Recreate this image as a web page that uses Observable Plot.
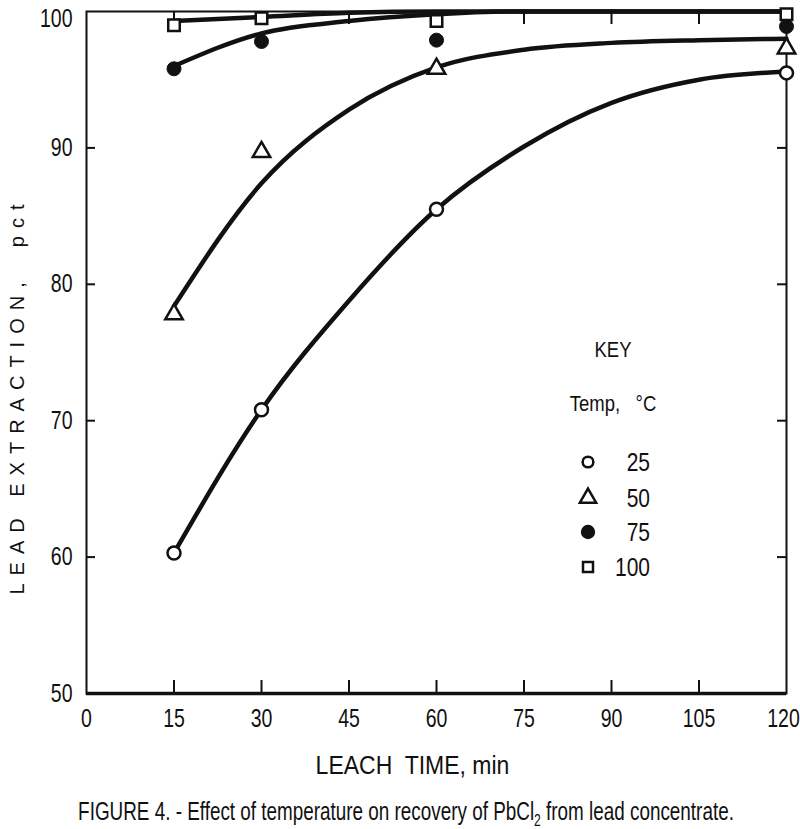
<!DOCTYPE html>
<html>
<head>
<meta charset="utf-8">
<script src="https://cdn.jsdelivr.net/npm/d3@7"></script>
<script src="https://cdn.jsdelivr.net/npm/@observablehq/plot@0.6"></script>
<style>
  body { margin: 0; background: #fff; }
  #wrap { position: relative; width: 800px; height: 829px; font-family: "Liberation Sans", Arial, sans-serif; color: #111; overflow: hidden; }
  #caption { position: absolute; left: -200px; top: 796px; width: 1212px; text-align: center; font-size: 25px; line-height: 30px; white-space: nowrap; transform: scaleX(0.755); transform-origin: 606px 0; }
  #caption sub { font-size: 16px; }
  .lg { position: absolute; white-space: nowrap; }
</style>
</head>
<body>
<div id="wrap"></div>
<script>
// ---- data ----
const times = [15, 30, 60, 120];                 // leach time, min (measured points)
const pct25  = [60.3, 70.8, 85.5, 95.5];
const pct50  = [77.8, 89.7, 95.8, 97.3];
const pct75  = [95.8, 97.8, 97.9, 98.9];
const pct100 = [99.0, 99.5, 99.3, 99.8];

const fitTimes = [15, 30, 45, 60, 75, 90, 105, 120]; // hand-drawn curves
const fit25  = [60.3, 70.8, 78.8, 85.5, 90.1, 93.3, 95.0, 95.6];
const fit50  = [78.4, 87.4, 92.8, 95.9, 97.2, 97.7, 97.9, 98.0];
const fit75  = [96.0, 98.4, 99.3, 99.8, 100, 100, 100, 100];
const fit100 = [99.3, 99.6, 99.9, 100, 100, 100, 100, 100];

const temps = ["25", "50", "75", "100"];
const xTicks = [0, 15, 30, 45, 60, 75, 90, 105, 120];
const xInnerTicks = [15, 30, 45, 60, 75, 90, 105];
const yTicks = [50, 60, 70, 80, 90, 100];
const yInnerTicks = [60, 70, 80, 90];

const xTitle = "LEACH  TIME, min";
const yTitle = "LEAD EXTRACTION,  pct";
const keyTitle = "KEY";
const keySub = "Temp,&nbsp;&nbsp;&nbsp;°C";

// ---- build tables ----
const fits = [fit25, fit50, fit75, fit100];
const fitRows = [];
fits.forEach((arr, k) => arr.forEach((v, i) => fitRows.push({temp: temps[k], t: fitTimes[i], v})));
const rows = arr => times.map((t, i) => ({t, v: arr[i]}));

const FONT = '"Liberation Sans", Arial, sans-serif';
const INK = "#111";
const lastX = xTicks[xTicks.length - 1];
const lastY = yTicks[yTicks.length - 1];

const plot = Plot.plot({
  width: 800,
  height: 790,
  marginLeft: 86,
  marginRight: 14,
  marginTop: 11,
  marginBottom: 97,
  x: {domain: [0, 120], label: null},
  y: {domain: [50, 100], label: null},
  style: {fontFamily: FONT, color: INK, background: "#fff", overflow: "visible"},
  marks: [
    Plot.frame({stroke: INK, strokeWidth: 2}),
    Plot.ruleY([yTicks[0]], {stroke: INK, strokeWidth: 3.5}),
    Plot.axisX({ticks: xTicks.filter(d => d !== lastX), tickSize: 0, tickPadding: 16, fontSize: 25, label: null}),
    Plot.axisX({ticks: [lastX], tickSize: 0, tickPadding: 16, fontSize: 25, dx: -3, label: null}),
    Plot.axisX({ticks: xInnerTicks, tickSize: -13, tickFormat: () => "", label: null, strokeWidth: 2}),
    Plot.axisX({anchor: "top", ticks: xInnerTicks, tickSize: -12, tickFormat: () => "", label: null, strokeWidth: 2}),
    Plot.axisY({ticks: yTicks.filter(d => d !== lastY), tickSize: 0, tickPadding: 14, fontSize: 25, label: null}),
    Plot.axisY({ticks: [lastY], tickSize: 0, tickPadding: 14, fontSize: 25, dy: 7, label: null}),
    Plot.axisY({ticks: yInnerTicks, tickSize: -9, tickFormat: () => "", label: null, strokeWidth: 2}),
    Plot.axisY({anchor: "right", ticks: yInnerTicks, tickSize: -10, tickFormat: () => "", label: null, strokeWidth: 2}),
    Plot.line(fitRows, {x: "t", y: "v", z: "temp", stroke: INK, strokeWidth: 4.5, curve: "monotone-x"}),
    Plot.dot(rows(pct25), {x: "t", y: "v", symbol: "circle", r: 6.5, fill: "#fff", stroke: INK, strokeWidth: 2.5}),
    Plot.dot(rows(pct50), {x: "t", y: "v", symbol: "triangle", r: 6.5, fill: "#fff", stroke: INK, strokeWidth: 2.5}),
    Plot.dot(rows(pct75), {x: "t", y: "v", symbol: "circle", r: 7, fill: INK, stroke: INK, strokeWidth: 1}),
    Plot.dot(rows(pct100), {x: "t", y: "v", symbol: "square", r: 6.5, fill: "#fff", stroke: INK, strokeWidth: 2.5}),
    Plot.text([yTitle], {text: d => d, frameAnchor: "left", textAnchor: "middle", rotate: -90, dx: -69, dy: 43, fontSize: 20, fill: INK}),
    Plot.text([xTitle], {text: d => d, frameAnchor: "bottom", textAnchor: "middle", dy: 80, dx: -24, fontSize: 25, fill: INK})
  ]
});
// condensed look for numerals and the x title; letter-spaced y title
plot.querySelectorAll("text").forEach(t => {
  t.style.whiteSpace = "pre";
  if (t.textContent === yTitle) { t.setAttribute("letter-spacing", "8px"); return; }
  const tr = t.getAttribute("transform");
  const k = t.textContent === xTitle ? 0.92 : 0.78;
  if (tr) t.setAttribute("transform", tr + ` scale(${k},1)`);
});

const wrap = document.getElementById("wrap");
wrap.appendChild(plot);

// ---- caption ----
const cap = document.createElement("div");
cap.id = "caption";
cap.innerHTML = "FIGURE 4. - Effect of temperature on recovery of PbCl<sub>2</sub> from lead concentrate.";
wrap.appendChild(cap);

// ---- key (legend) ----
const keyStyles = [
  {shape: d3.symbolCircle, size: 90, fill: "#fff"},
  {shape: d3.symbolTriangle, size: 115, fill: "#fff"},
  {shape: d3.symbolCircle, size: 110, fill: INK},
  {shape: d3.symbolSquare, size: 100, fill: "#fff"}
];
function add(html, css) {
  const d = document.createElement("div");
  d.className = "lg";
  d.innerHTML = html;
  Object.assign(d.style, css);
  wrap.appendChild(d);
  return d;
}
add(keyTitle, {left: "563px", width: "100px", textAlign: "center", top: "335px", fontSize: "22px", lineHeight: "30px", transform: "scaleX(0.84)"});
add(keySub, {left: "553px", width: "120px", textAlign: "center", top: "389px", fontSize: "22px", lineHeight: "30px", transform: "scaleX(0.84)"});
temps.forEach((t, i) => {
  const cy = [462, 498, 532, 567][i];
  const s = keyStyles[i];
  const sym = d3.symbol(s.shape, s.size)();
  add(`<svg width="24" height="24" viewBox="-12 -12 24 24"><path d="${sym}" fill="${s.fill}" stroke="${INK}" stroke-width="2.5"/></svg>`,
      {left: "576px", top: (cy - 12) + "px", width: "24px", height: "24px"});
  add(t, {left: "590px", width: "60px", textAlign: "right", top: (cy - 15) + "px", fontSize: "25px", lineHeight: "30px", transform: "scaleX(0.84)", transformOrigin: "right center"});
});
</script>
</body>
</html>
